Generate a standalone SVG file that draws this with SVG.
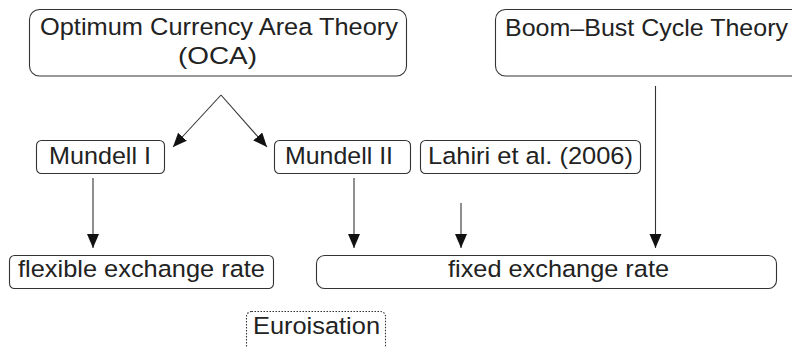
<svg xmlns="http://www.w3.org/2000/svg" width="792" height="347" viewBox="0 0 792 347">
<style>
.box{fill:#fff;stroke:#333;stroke-width:1.1}
.dot{fill:#fff;stroke:#333;stroke-width:1.1;stroke-dasharray:1.5 1.5}
.t{font-family:"Liberation Sans",Arial,sans-serif;font-size:24.5px;fill:#222}
.c{stroke:#333;stroke-width:1.1;fill:none;marker-end:url(#ah)}
</style>
<defs>
<marker id="ah" markerUnits="userSpaceOnUse" markerWidth="15" markerHeight="13" refX="14" refY="6" orient="auto">
<path d="M0,0 L14,6 L0,12 z" fill="#111"/>
</marker>
</defs>
<g id="oca">
<rect class="box" x="29.5" y="9.5" width="377" height="66.5" rx="10"/>
<text class="t" x="40" y="35" textLength="358" lengthAdjust="spacingAndGlyphs">Optimum Currency Area Theory</text>
<text class="t" x="178" y="64" textLength="79" lengthAdjust="spacingAndGlyphs">(OCA)</text>
</g>
<g id="boom">
<rect class="box" x="495.5" y="9.5" width="310" height="66.5" rx="10"/>
<text class="t" x="505" y="36" textLength="283" lengthAdjust="spacingAndGlyphs">Boom–Bust Cycle Theory</text>
</g>
<g id="mundell1">
<rect class="box" x="36.5" y="140.5" width="128" height="33" rx="5"/>
<text class="t" x="49" y="163.5" textLength="102" lengthAdjust="spacingAndGlyphs">Mundell I</text>
</g>
<g id="mundell2">
<rect class="box" x="274.5" y="140.5" width="136" height="33" rx="5"/>
<text class="t" x="285" y="163.5" textLength="108" lengthAdjust="spacingAndGlyphs">Mundell II</text>
</g>
<g id="lahiri">
<rect class="box" x="420.5" y="140.5" width="220" height="33" rx="5"/>
<text class="t" x="428" y="163.5" textLength="205" lengthAdjust="spacingAndGlyphs">Lahiri et al. (2006)</text>
</g>
<g id="flexible">
<rect class="box" x="9.5" y="255.5" width="264" height="33" rx="5"/>
<text class="t" x="18" y="277" textLength="247" lengthAdjust="spacingAndGlyphs">flexible exchange rate</text>
</g>
<g id="fixed">
<rect class="box" x="316.5" y="255.5" width="460" height="33" rx="8"/>
<text class="t" x="448" y="277" textLength="221" lengthAdjust="spacingAndGlyphs">fixed exchange rate</text>
</g>
<g id="euroisation">
<rect class="dot" x="246.5" y="311.5" width="139" height="45" rx="5"/>
<text class="t" x="253" y="333.5" textLength="127" lengthAdjust="spacingAndGlyphs">Euroisation</text>
</g>
<g id="connectors">
<line class="c" x1="221" y1="95" x2="173" y2="147"/>
<line class="c" x1="221" y1="95" x2="267" y2="147"/>
<line class="c" x1="93" y1="178" x2="93" y2="248"/>
<line class="c" x1="354" y1="178" x2="354" y2="248"/>
<line class="c" x1="461" y1="203" x2="461" y2="248"/>
<line class="c" x1="655.5" y1="86" x2="655.5" y2="248"/>
</g>
</svg>
